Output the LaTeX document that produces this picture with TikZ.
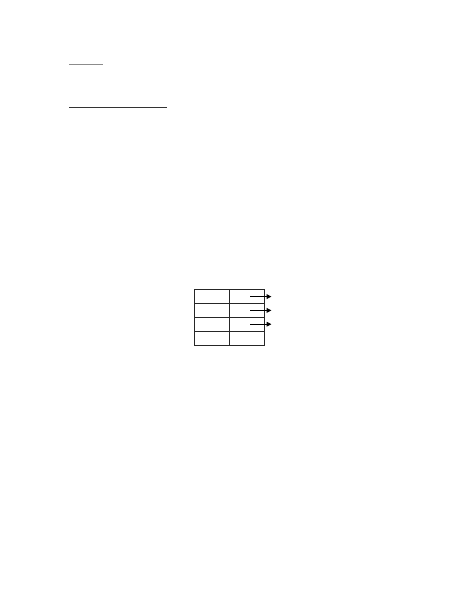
\documentclass[tikz,border=0pt]{standalone}
\usetikzlibrary{positioning,arrows.meta}
\begin{document}
\begin{tikzpicture}[x=0.75pt,y=-0.75pt,
        cell/.style={draw=black!85,line width=0.6pt,minimum width=26pt,minimum height=10.35pt,inner sep=0pt,outer sep=0pt},
        link/.style={-{Triangle[length=3.5pt,width=3.5pt]},line width=0.6pt}]
        \useasboundingbox (0,0) rectangle (474,613);

        \draw [black!45, line width=0.5pt] (69.3,64.7) -- (102.7,64.7);
        \draw [black!80, line width=0.7pt] (69.3,107.7) -- (166.7,107.7);

        \node (r1l) [cell, anchor=north west] at (194.7,289.7) {};
        \node (r1r) [cell, right=0pt of r1l] {};
        \node (r2l) [cell, below=0pt of r1l] {};
        \node (r2r) [cell, right=0pt of r2l] {};
        \node (r3l) [cell, below=0pt of r2l] {};
        \node (r3r) [cell, right=0pt of r3l] {};
        \node (r4l) [cell, below=0pt of r3l] {};
        \node (r4r) [cell, right=0pt of r4l] {};

        \coordinate (p1) at ([xshift=5.5pt]r1r.east);
        \coordinate (p2) at ([xshift=5.5pt]r2r.east);
        \coordinate (p3) at ([xshift=5.5pt]r3r.east);

        \draw [link] ([xshift=-10.5pt]r1r.east) -- (p1);
        \draw [link] ([xshift=-10.5pt]r2r.east) -- (p2);
        \draw [link] ([xshift=-10.5pt]r3r.east) -- (p3);
    \end{tikzpicture}
\end{document}
